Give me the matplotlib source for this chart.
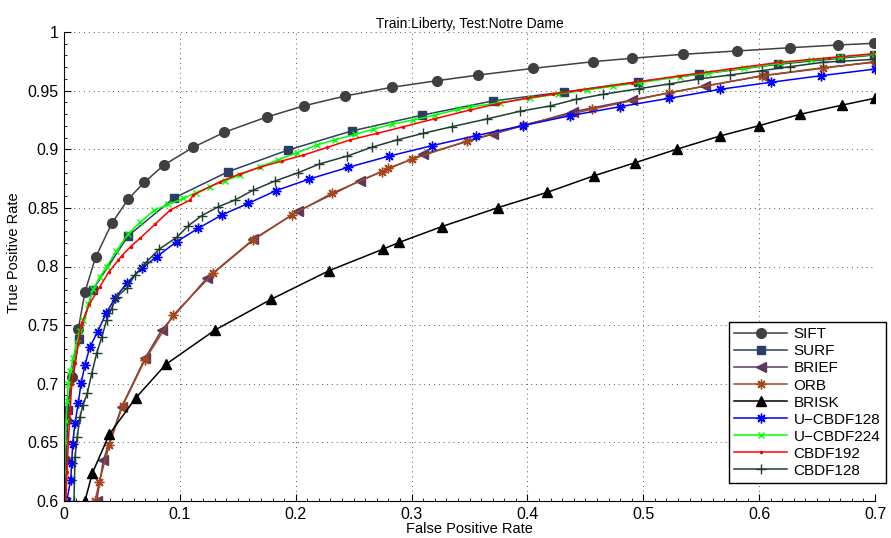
import matplotlib
matplotlib.use("Agg")
import matplotlib.pyplot as plt
from matplotlib.ticker import AutoMinorLocator, FormatStrFormatter, MultipleLocator

plt.rcParams['font.family'] = ['Liberation Sans', 'DejaVu Sans']

# ---- data ----
sift_x = [0.0, 0.001, 0.0017, 0.0066, 0.0123, 0.0181, 0.0272, 0.0414, 0.0555, 0.0693, 0.0866,
          0.1116, 0.1384, 0.175, 0.2074, 0.2425, 0.2828, 0.3222, 0.3576, 0.405, 0.4568, 0.49,
          0.5345, 0.5806, 0.6266, 0.6678, 0.6994]
sift_y = [0.60, 0.635, 0.669, 0.706, 0.7464, 0.7783, 0.8077, 0.8371, 0.8576, 0.8718, 0.8868,
          0.9017, 0.9145, 0.9275, 0.9371, 0.9454, 0.9528, 0.9585, 0.9633, 0.969, 0.9747, 0.9776,
          0.981, 0.9838, 0.9866, 0.9889, 0.9904]

surf_x = [0.0009, 0.0035, 0.0129, 0.0248, 0.0555, 0.0949, 0.1418, 0.1936, 0.2483, 0.3087,
          0.37, 0.4318, 0.4957, 0.548, 0.6165, 0.6698, 0.6994]
surf_y = [0.60, 0.678, 0.7379, 0.78, 0.8263, 0.8584, 0.8809, 0.8994, 0.9156, 0.929,
          0.9412, 0.9488, 0.9576, 0.9639, 0.9725, 0.9776, 0.9804]

brief_x = [0.0282, 0.034, 0.0498, 0.0699, 0.0843, 0.1232, 0.1634, 0.2022, 0.2555, 0.3101,
           0.3705, 0.4396, 0.49, 0.5532, 0.6036, 0.7]
brief_y = [0.60, 0.635, 0.6804, 0.7217, 0.7458, 0.79, 0.8232, 0.8473, 0.8732, 0.8957,
           0.913, 0.932, 0.942, 0.9539, 0.9627, 0.9747]

orb_x = [0.0268, 0.0305, 0.0391, 0.0505, 0.0699, 0.0943, 0.1289, 0.1634, 0.1965, 0.2311,
         0.2742, 0.2799, 0.3001, 0.3476, 0.3964, 0.4555, 0.5224, 0.6022, 0.6554, 0.7]
orb_y = [0.60, 0.6165, 0.6478, 0.681, 0.7203, 0.7586, 0.7942, 0.8226, 0.8439, 0.8624,
         0.8809, 0.8838, 0.8914, 0.907, 0.9207, 0.9341, 0.9482, 0.9627, 0.9696, 0.9742]

brisk_x = [0.0181, 0.0244, 0.0391, 0.0621, 0.088, 0.1303, 0.1787, 0.2287, 0.2756, 0.2894,
           0.326, 0.3743, 0.4172, 0.4575, 0.4929, 0.5294, 0.5662, 0.5999, 0.6353, 0.6718, 0.7]
brisk_y = [0.60, 0.6236, 0.6569, 0.6881, 0.7166, 0.7458, 0.772, 0.7964, 0.8149, 0.8206,
           0.834, 0.8501, 0.8633, 0.8774, 0.8885, 0.9002, 0.9113, 0.9201, 0.9298, 0.9377, 0.9435]

ucbdf128_x = [0.0023, 0.0058, 0.0066, 0.0075, 0.0095, 0.0123, 0.0147, 0.0181, 0.0224, 0.0291,
              0.0363, 0.044, 0.0541, 0.0671, 0.08, 0.0973, 0.1159, 0.1361, 0.1591, 0.183,
              0.2117, 0.2454, 0.2808, 0.3174, 0.3556, 0.3959, 0.4367, 0.4799, 0.5224, 0.5662,
              0.61, 0.6531, 0.7]
ucbdf128_y = [0.60, 0.618, 0.632, 0.649, 0.6663, 0.6833, 0.7004, 0.716, 0.7316, 0.7444,
              0.7601, 0.7729, 0.7857, 0.7985, 0.8084, 0.8212, 0.8326, 0.8439, 0.8539, 0.8647,
              0.8746, 0.8846, 0.8942, 0.903, 0.9116, 0.9201, 0.9286, 0.9363, 0.9435, 0.9511,
              0.9571, 0.9627, 0.9684]

ucbdf224_x = [0.0, 0.0005, 0.001, 0.0018, 0.0027, 0.0037, 0.0055, 0.008, 0.011, 0.0137, 0.0167,
              0.021, 0.0253, 0.031, 0.0368, 0.045, 0.0555, 0.066, 0.078, 0.09, 0.103, 0.114,
              0.126, 0.139, 0.152, 0.169, 0.185, 0.201, 0.218, 0.234, 0.251, 0.267, 0.283,
              0.3015, 0.32, 0.34, 0.3504, 0.376, 0.4022, 0.426, 0.4512, 0.474, 0.4972, 0.5317,
              0.556, 0.587, 0.618, 0.645, 0.67, 0.7]
ucbdf224_y = [0.60, 0.625, 0.65, 0.668, 0.685, 0.70, 0.711, 0.722, 0.735, 0.745, 0.754,
              0.768, 0.781, 0.791, 0.80, 0.813, 0.828, 0.838, 0.848, 0.853, 0.858, 0.863,
              0.868, 0.873, 0.878, 0.885, 0.891, 0.897, 0.9036, 0.908, 0.9127, 0.917, 0.9213,
              0.925, 0.929, 0.934, 0.9358, 0.9398, 0.9435, 0.947, 0.9505, 0.9537, 0.9568, 0.9619,
              0.965, 0.969, 0.9733, 0.976, 0.9784, 0.981]

cbdf192_x = [0.0015, 0.0026, 0.0037, 0.0052, 0.0066, 0.0095, 0.0125, 0.0153, 0.022, 0.031,
             0.0385, 0.0469, 0.0498, 0.0575, 0.0656, 0.0785, 0.0915, 0.1088, 0.1116, 0.1346,
             0.152, 0.169, 0.188, 0.2066, 0.227, 0.2468, 0.27, 0.2929, 0.32, 0.3504, 0.375,
             0.3993, 0.422, 0.4454, 0.49, 0.5317, 0.575, 0.618, 0.66, 0.7015]
cbdf192_y = [0.60, 0.625, 0.65, 0.675, 0.70, 0.718, 0.735, 0.7516, 0.768, 0.7828,
             0.795, 0.8055, 0.809, 0.817, 0.824, 0.836, 0.848, 0.8567, 0.861, 0.8723,
             0.879, 0.8846, 0.89, 0.895, 0.9015, 0.9079, 0.9135, 0.9192, 0.926, 0.9335, 0.939,
             0.9435, 0.947, 0.9505, 0.9567, 0.9627, 0.9685, 0.9742, 0.978, 0.9818]

cbdf128_x = [0.0086, 0.0095, 0.0115, 0.0138, 0.0165, 0.0201, 0.024, 0.0282, 0.0325, 0.0368,
             0.041, 0.0455, 0.0541, 0.0613, 0.0714, 0.082, 0.0973, 0.1073, 0.1188, 0.1332,
             0.1476, 0.1634, 0.1821, 0.2022, 0.2203, 0.2445, 0.2656, 0.2872, 0.3101, 0.3346,
             0.3648, 0.3936, 0.4195, 0.4419, 0.4655, 0.4966, 0.5224, 0.5475, 0.5748, 0.6022,
             0.6266, 0.6554, 0.6994]
cbdf128_y = [0.60, 0.6378, 0.655, 0.672, 0.682, 0.6918, 0.709, 0.726, 0.7395, 0.7544,
             0.764, 0.7743, 0.7814, 0.7928, 0.8041, 0.8147, 0.8249, 0.8348, 0.8433, 0.851,
             0.8567, 0.8652, 0.8729, 0.88, 0.8874, 0.8942, 0.9017, 0.9079, 0.9136, 0.9192,
             0.9258, 0.9324, 0.9369, 0.9426, 0.9469, 0.9517, 0.9557, 0.9599, 0.9633, 0.967,
             0.9704, 0.9742, 0.9767]

asterisk = (8, 2, 0)

series = [
    ("SIFT", sift_x, sift_y, '#404040', 'o', 7, '#404040'),
    ("SURF", surf_x, surf_y, '#2c3e63', 's', 6, '#2c3e63'),
    ("BRIEF", brief_x, brief_y, '#5b3a5e', '<', 7.5, '#5b3a5e'),
    ("ORB", orb_x, orb_y, '#a5461c', asterisk, 7, '#a5461c'),
    ("BRISK", brisk_x, brisk_y, '#000000', '^', 7.5, '#000000'),
    ("U\u2212CBDF128", ucbdf128_x, ucbdf128_y, '#0000ff', asterisk, 7, '#0000ff'),
    ("U\u2212CBDF224", ucbdf224_x, ucbdf224_y, '#00ff00', 'x', 5, '#00ff00'),
    ("CBDF192", cbdf192_x, cbdf192_y, '#ff0000', '.', 3, '#ff0000'),
    ("CBDF128", cbdf128_x, cbdf128_y, '#1e3f2e', '+', 7, '#1e3f2e'),
]

fig = plt.figure(figsize=(8.91, 5.38), dpi=100)
ax = fig.add_axes([64 / 891, 1 - 501 / 538, 811 / 891, 469 / 538])

for name, xs, ys, col, mk, ms, fc in series:
    ax.plot(xs, ys, color=col, lw=1.1, marker=mk, markersize=ms,
            markerfacecolor=fc, markeredgecolor=col, markeredgewidth=1.0, label=name)

ax.set_xlim(0, 0.7)
ax.set_ylim(0.6, 1.0)
ax.xaxis.set_major_locator(MultipleLocator(0.1))
ax.yaxis.set_major_locator(MultipleLocator(0.05))
ax.xaxis.set_major_formatter(FormatStrFormatter('%g'))
ax.yaxis.set_major_formatter(FormatStrFormatter('%g'))
ax.xaxis.set_minor_locator(AutoMinorLocator(10))
ax.yaxis.set_minor_locator(AutoMinorLocator(5))
ax.tick_params(which='both', direction='in', top=False, right=False, labelsize=11.5)
ax.tick_params(which='major', length=5, pad=4)
ax.tick_params(which='minor', length=2.5)

ax.grid(True, which='major', linestyle=(0, (1, 4)), color='#555555', lw=0.7)
for s in ['top', 'right']:
    ax.spines[s].set_visible(False)

ax.set_xlabel('False Positive Rate', fontsize=10.5, labelpad=0)
ax.set_ylabel('True Positive Rate', fontsize=10.5)
ax.yaxis.set_label_coords(-0.053, 0.53)
ax.set_title('Train:Liberty, Test:Notre Dame', fontsize=10, pad=3)

leg = ax.legend(loc='lower right', bbox_to_anchor=(1.013, 0.038), borderaxespad=0,
                fontsize=11, handlelength=3.5, handletextpad=0.4, borderpad=0.35,
                labelspacing=0.2, fancybox=False, framealpha=1, edgecolor='black')
leg.get_frame().set_linewidth(1.0)

fig.savefig('out.png', dpi=100)
